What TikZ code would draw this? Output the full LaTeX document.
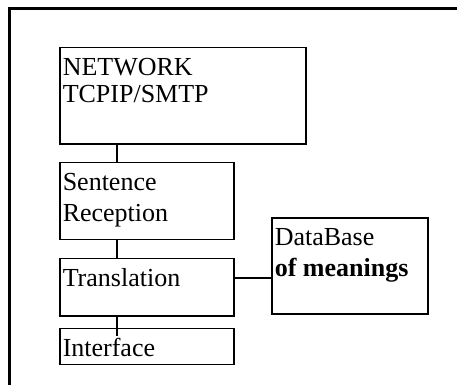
\documentclass[tikz,border=0pt]{standalone}
\usepackage{fontspec}
\setmainfont{Liberation Serif}
\usepackage{tikz}
% text set at the top of a fixed-size box
\newcommand{\boxlines}[3]{\parbox[t][#1][t]{#2}{\rule{0pt}{28pt}#3}}

\begin{document}
\begin{tikzpicture}[x=1pt, y=-1pt,
    block/.style={draw, line width=1.5pt, anchor=north west, inner xsep=3pt, inner ysep=0pt, font=\fontsize{26}{31}\selectfont},
    link/.style={line width=1.5pt},
    frame/.style={line width=2.8pt}]
\useasboundingbox (0,0) rectangle (457,385);
% Outer frame
\draw[frame] (457,8.7) -- (9.5,8.7) -- (9.5,385);
% Blocks
\node[block] (net) at (59,47) {\boxlines{96pt}{240pt}{NETWORK\\[-4pt]TCPIP/SMTP}};
\node[block] (sent) at (59,161.5) {\boxlines{77pt}{168pt}{Sentence\\Reception}};
\node[block] (trans) at (59,257.5) {\boxlines{57.5pt}{168pt}{Translation}};
\node[block] (iface) at (59,327.5) {\boxlines{36pt}{168pt}{Interface}};
\node[block] (db) at (271,217) {\boxlines{96pt}{150pt}{DataBase\\\textbf{of meanings}}};
% Links
\draw[link] ([xshift=58pt]net.south west) -- ([xshift=58pt]sent.north west);
\draw[link] ([xshift=58pt]sent.south west) -- ([xshift=58pt]trans.north west);
\draw[link] ([xshift=58pt]trans.south west) -- ([xshift=58pt, yshift=-8pt]iface.north west);
\draw[link] ([yshift=9pt]trans.east) -- ([yshift=9pt]trans.east -| db.west);
\end{tikzpicture}
\end{document}
